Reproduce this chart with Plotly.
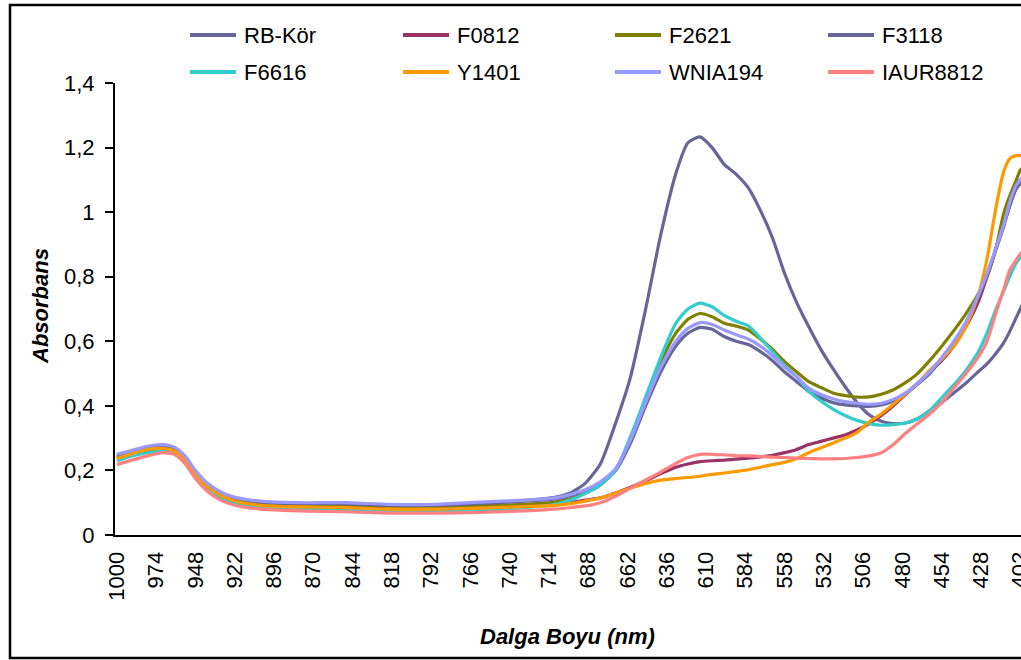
import plotly.graph_objects as go

# ---------------- data ----------------
wavelength = [1000, 990, 980, 970, 962, 955, 948, 940, 930, 920, 905, 880, 850, 820, 790, 760,
              730, 710, 700, 690, 680, 670, 660, 650, 640, 630, 622, 614, 606, 598, 590, 582,
              574, 566, 558, 550, 542, 534, 526, 518, 510, 502, 494, 486, 478, 470, 462, 454,
              446, 438, 430, 424, 418, 413, 409, 405, 402, 400]

rb_kor = [0.245, 0.258, 0.270, 0.275, 0.268, 0.240, 0.195, 0.155, 0.127, 0.112, 0.102, 0.097, 0.097, 0.092, 0.092, 0.098,
          0.107, 0.117, 0.130, 0.160, 0.220, 0.345, 0.490, 0.700, 0.930, 1.120, 1.215, 1.233, 1.200, 1.148, 1.117, 1.075,
          1.005, 0.920, 0.810, 0.720, 0.645, 0.575, 0.515, 0.460, 0.410, 0.372, 0.352, 0.345, 0.347, 0.360, 0.385, 0.410,
          0.440, 0.470, 0.505, 0.530, 0.563, 0.595, 0.630, 0.670, 0.700, 0.720]

f0812 = [0.240, 0.255, 0.267, 0.272, 0.265, 0.238, 0.193, 0.152, 0.123, 0.108, 0.098, 0.093, 0.092, 0.088, 0.088, 0.090,
         0.093, 0.096, 0.100, 0.108, 0.115, 0.130, 0.148, 0.168, 0.190, 0.210, 0.220, 0.227, 0.230, 0.232, 0.235, 0.238,
         0.242, 0.247, 0.255, 0.265, 0.280, 0.290, 0.300, 0.310, 0.325, 0.345, 0.370, 0.400, 0.435, 0.470, 0.505, 0.540,
         0.585, 0.645, 0.720, 0.800, 0.890, 0.960, 1.020, 1.070, 1.090, 1.100]

f2621 = [0.235, 0.250, 0.262, 0.265, 0.258, 0.232, 0.188, 0.148, 0.120, 0.105, 0.095, 0.090, 0.088, 0.083, 0.083, 0.088,
         0.095, 0.102, 0.112, 0.130, 0.155, 0.200, 0.290, 0.415, 0.535, 0.625, 0.668, 0.686, 0.676, 0.656, 0.647, 0.635,
         0.607, 0.575, 0.537, 0.505, 0.475, 0.457, 0.440, 0.432, 0.427, 0.428, 0.436, 0.450, 0.472, 0.500, 0.540, 0.585,
         0.633, 0.685, 0.745, 0.800, 0.890, 0.995, 1.050, 1.095, 1.130, 1.140]

f3118 = [0.245, 0.258, 0.270, 0.275, 0.268, 0.240, 0.195, 0.155, 0.127, 0.112, 0.102, 0.097, 0.097, 0.092, 0.092, 0.098,
         0.105, 0.112, 0.122, 0.137, 0.160, 0.200, 0.285, 0.400, 0.505, 0.585, 0.625, 0.643, 0.637, 0.615, 0.600, 0.590,
         0.568, 0.540, 0.505, 0.475, 0.445, 0.425, 0.410, 0.403, 0.400, 0.398, 0.403, 0.415, 0.437, 0.467, 0.500, 0.545,
         0.595, 0.655, 0.735, 0.805, 0.885, 0.955, 1.020, 1.070, 1.090, 1.100]

f6616 = [0.230, 0.245, 0.255, 0.260, 0.252, 0.225, 0.180, 0.140, 0.110, 0.095, 0.085, 0.080, 0.078, 0.073, 0.073, 0.077,
         0.085, 0.095, 0.108, 0.128, 0.155, 0.200, 0.305, 0.427, 0.550, 0.656, 0.700, 0.718, 0.707, 0.680, 0.662, 0.648,
         0.610, 0.568, 0.525, 0.490, 0.445, 0.415, 0.390, 0.370, 0.355, 0.345, 0.340, 0.342, 0.347, 0.360, 0.385, 0.425,
         0.465, 0.510, 0.565, 0.626, 0.700, 0.755, 0.800, 0.840, 0.860, 0.870]

y1401 = [0.237, 0.252, 0.265, 0.268, 0.260, 0.234, 0.190, 0.150, 0.120, 0.103, 0.092, 0.087, 0.085, 0.080, 0.080, 0.083,
         0.088, 0.092, 0.097, 0.105, 0.115, 0.130, 0.145, 0.160, 0.170, 0.175, 0.178, 0.182, 0.188, 0.192, 0.197, 0.202,
         0.210, 0.218, 0.225, 0.237, 0.255, 0.270, 0.285, 0.300, 0.318, 0.350, 0.375, 0.405, 0.437, 0.470, 0.510, 0.545,
         0.585, 0.645, 0.740, 0.855, 1.016, 1.125, 1.165, 1.175, 1.175, 1.170]

wnia194 = [0.250, 0.262, 0.275, 0.280, 0.272, 0.245, 0.200, 0.160, 0.130, 0.115, 0.105, 0.100, 0.100, 0.095, 0.095, 0.102,
           0.108, 0.115, 0.125, 0.140, 0.165, 0.205, 0.295, 0.410, 0.520, 0.600, 0.640, 0.658, 0.652, 0.635, 0.620, 0.607,
           0.585, 0.555, 0.520, 0.490, 0.455, 0.435, 0.422, 0.413, 0.408, 0.405, 0.408, 0.420, 0.440, 0.470, 0.505, 0.550,
           0.600, 0.660, 0.740, 0.810, 0.890, 0.960, 1.030, 1.080, 1.100, 1.110]

iaur8812 = [0.218, 0.232, 0.245, 0.255, 0.250, 0.222, 0.175, 0.135, 0.105, 0.090, 0.080, 0.075, 0.072, 0.068, 0.068, 0.070,
            0.075, 0.080, 0.085, 0.090, 0.100, 0.120, 0.145, 0.170, 0.195, 0.222, 0.240, 0.250, 0.250, 0.248, 0.246, 0.245,
            0.243, 0.241, 0.240, 0.238, 0.237, 0.236, 0.236, 0.237, 0.240, 0.245, 0.255, 0.280, 0.315, 0.345, 0.375, 0.410,
            0.455, 0.500, 0.550, 0.600, 0.690, 0.760, 0.820, 0.850, 0.870, 0.880]

series_names = ["RB-Kör", "F0812", "F2621", "F3118", "F6616", "Y1401", "WNIA194", "IAUR8812"]
series_values = [rb_kor, f0812, f2621, f3118, f6616, y1401, wnia194, iaur8812]
series_colors = ["#666699", "#993366", "#808000", "#666699", "#33CCCC", "#FF9900", "#9999FF", "#FF8080"]

x_tick_values = [1000, 974, 948, 922, 896, 870, 844, 818, 792, 766, 740, 714,
                 688, 662, 636, 610, 584, 558, 532, 506, 480, 454, 428, 402]
x_tick_labels = ["1000", "974", "948", "922", "896", "870", "844", "818", "792", "766", "740", "714",
                 "688", "662", "636", "610", "584", "558", "532", "506", "480", "454", "428", "402"]
y_tick_values = [0, 0.2, 0.4, 0.6, 0.8, 1.0, 1.2, 1.4]
y_tick_labels = ["0", "0,2", "0,4", "0,6", "0,8", "1", "1,2", "1,4"]

FONT = "Arial, 'Liberation Sans', sans-serif"

fig = go.Figure()
for name, vals, col in zip(series_names, series_values, series_colors):
    fig.add_trace(go.Scatter(
        x=wavelength, y=vals, mode="lines", name=name, showlegend=False,
        line=dict(color=col, width=3.2, shape="spline", smoothing=0.6),
    ))

W, H = 1021, 660
L, R, T, B = 115, 0, 83, 125
pw, ph = W - L - R, H - T - B


def px(xp):
    return (xp - L) / pw


def py(yp):
    return (H - B - yp) / ph


# legend laid out as 2 rows x 4 columns (line sample + label)
legend_col_x = [190, 403, 615, 828]
legend_row_y = [35, 72]
sample_len = 46
text_gap = 8

shapes = [
    dict(type="rect", xref="paper", yref="paper",
         x0=px(10), x1=px(1040), y0=py(658), y1=py(5),
         line=dict(color="black", width=2.5), fillcolor="rgba(0,0,0,0)", layer="below"),
]
annotations = [
    dict(text="<b><i>Dalga Boyu (nm)</i></b>", xref="paper", yref="paper",
         x=px(567), y=py(636), xanchor="center", yanchor="middle", showarrow=False,
         font=dict(family=FONT, size=22, color="black")),
    dict(text="<b><i>Absorbans</i></b>", xref="paper", yref="paper",
         x=px(40), y=py(306), xanchor="center", yanchor="middle", showarrow=False,
         textangle=-90, font=dict(family=FONT, size=22, color="black")),
]
for i, (name, col) in enumerate(zip(series_names, series_colors)):
    cx = legend_col_x[i % 4]
    ry = legend_row_y[i // 4]
    shapes.append(dict(type="line", xref="paper", yref="paper",
                       x0=px(cx), x1=px(cx + sample_len), y0=py(ry), y1=py(ry),
                       line=dict(color=col, width=4)))
    annotations.append(dict(text=name, xref="paper", yref="paper",
                            x=px(cx + sample_len + text_gap - 2), y=py(ry),
                            xanchor="left", yanchor="middle", showarrow=False,
                            font=dict(family=FONT, size=22, color="black")))

fig.update_layout(
    width=W, height=H,
    margin=dict(l=L, r=R, t=T, b=B, pad=0, autoexpand=False),
    paper_bgcolor="white", plot_bgcolor="white",
    font=dict(family=FONT, size=22, color="black"),
    showlegend=False,
    xaxis=dict(
        range=[1001.3, 401.5], tickmode="array",
        tickvals=x_tick_values, ticktext=x_tick_labels, tickangle=-90,
        ticks="", showgrid=False, zeroline=False,
        showline=True, linecolor="black", linewidth=2,
        tickfont=dict(family=FONT, size=22, color="black"),
        ticklabelstandoff=6, ticklabeloverflow="allow", automargin=False,
    ),
    yaxis=dict(
        range=[0, 1.4], tickmode="array",
        tickvals=y_tick_values, ticktext=y_tick_labels,
        ticks="outside", ticklen=8, tickwidth=2, tickcolor="black",
        showgrid=False, zeroline=False,
        showline=True, linecolor="black", linewidth=2,
        tickfont=dict(family=FONT, size=22, color="black"),
        ticklabelstandoff=6, automargin=False,
    ),
    annotations=annotations,
    shapes=shapes,
)

fig.write_html("out.html")
